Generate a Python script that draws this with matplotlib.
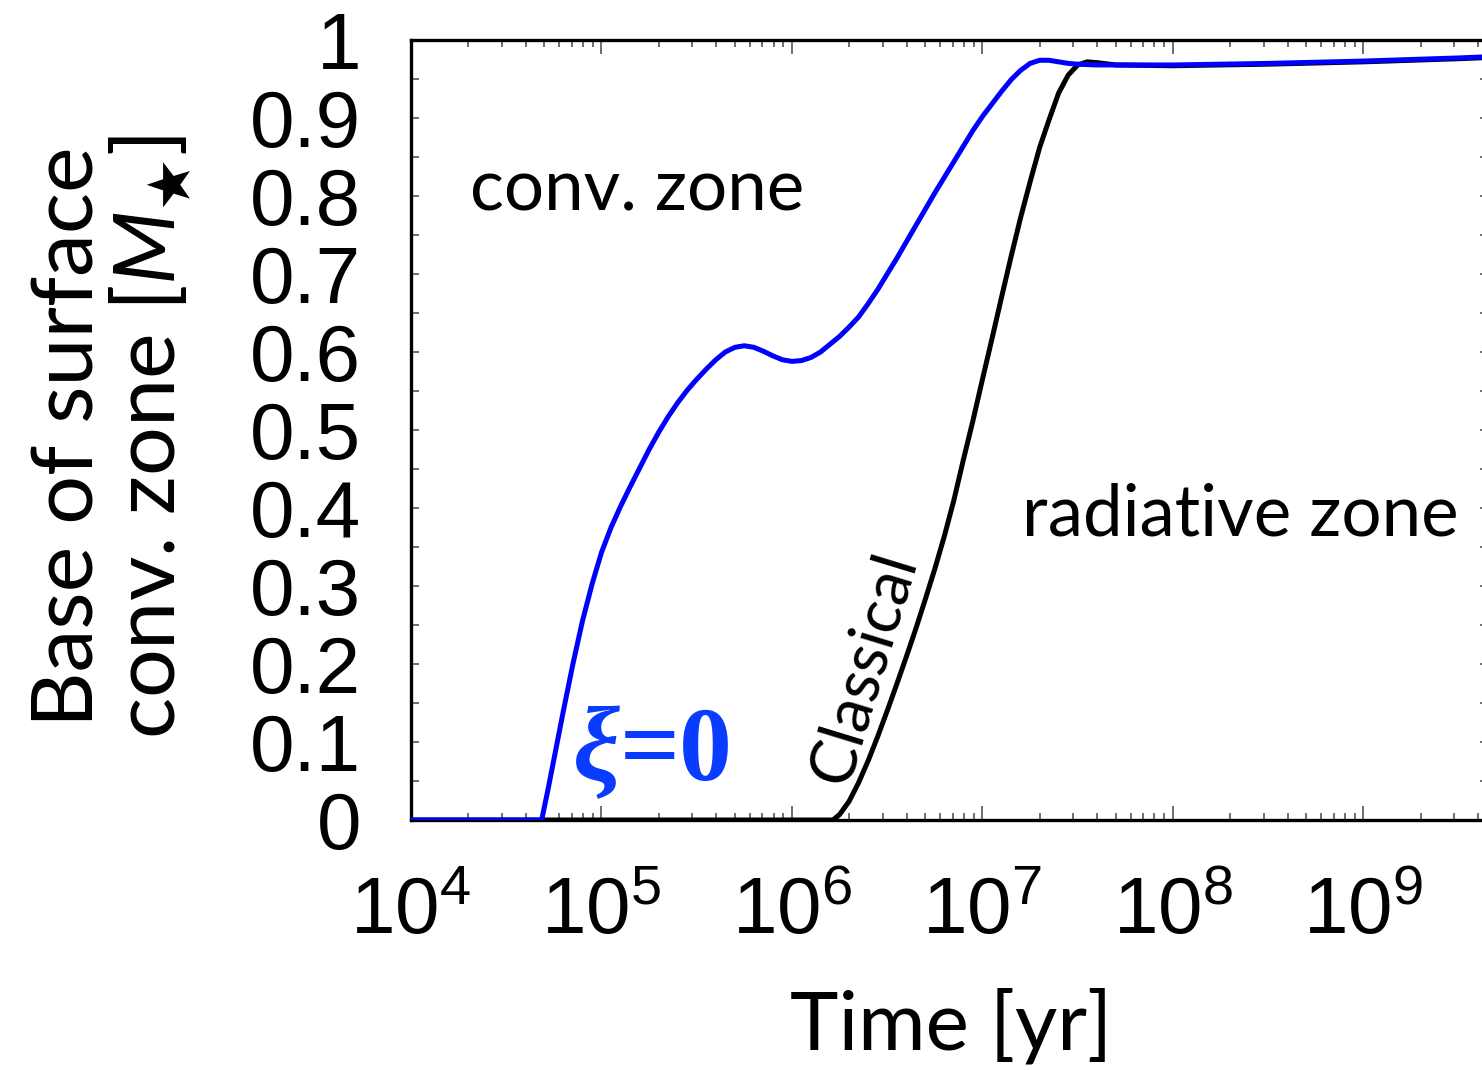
import numpy as np
import matplotlib
matplotlib.use('Agg')
import matplotlib.pyplot as plt
from matplotlib.ticker import FixedLocator, LogLocator, FuncFormatter, NullFormatter

plt.rcParams['mathtext.fontset'] = 'custom'
plt.rcParams['mathtext.it'] = 'Lato:italic'
plt.rcParams['mathtext.rm'] = 'Lato'
plt.rcParams['mathtext.fallback'] = 'stixsans'

# base of the surface convective zone vs. age, log10(t/yr)
logt_xi0 = [4.0, 4.686, 4.72, 4.76, 4.80, 4.85, 4.90, 4.95, 5.00, 5.05, 5.10, 5.15,
            5.20, 5.25, 5.30, 5.35, 5.40, 5.45, 5.50, 5.55, 5.60, 5.65, 5.70, 5.75,
            5.80, 5.85, 5.90, 5.95, 6.00, 6.05, 6.10, 6.15, 6.20, 6.25, 6.30, 6.35,
            6.40, 6.45, 6.50, 6.55, 6.60, 6.65, 6.70, 6.75, 6.80, 6.85, 6.90, 6.95,
            7.00, 7.05, 7.10, 7.15, 7.20, 7.25, 7.30, 7.35, 7.40, 7.45, 7.50, 7.60,
            8.0, 8.5, 9.0, 9.5, 9.7]
mcz_xi0 = [0.0, 0.0, 0.040, 0.090, 0.140, 0.200, 0.255, 0.302, 0.343, 0.375, 0.402, 0.427,
           0.451, 0.475, 0.497, 0.517, 0.535, 0.551, 0.565, 0.578, 0.590, 0.600, 0.606, 0.608,
           0.606, 0.601, 0.595, 0.590, 0.588, 0.589, 0.593, 0.600, 0.610, 0.620, 0.632, 0.645,
           0.662, 0.680, 0.700, 0.720, 0.741, 0.762, 0.783, 0.804, 0.824, 0.844, 0.864, 0.884,
           0.902, 0.918, 0.934, 0.949, 0.961, 0.970, 0.974, 0.974, 0.972, 0.970, 0.969, 0.968,
           0.968, 0.970, 0.973, 0.977, 0.979]

logt_classic = [4.0, 6.215, 6.25, 6.30, 6.35, 6.40, 6.45, 6.50, 6.55, 6.60, 6.65, 6.70,
                6.75, 6.80, 6.85, 6.90, 6.95, 7.00, 7.05, 7.10, 7.15, 7.20, 7.25, 7.30,
                7.35, 7.40, 7.45, 7.50, 7.55, 7.60, 7.70, 8.0, 8.5, 9.0, 9.5, 9.7]
mcz_classic = [0.0, 0.0, 0.007, 0.024, 0.048, 0.076, 0.107, 0.140, 0.174, 0.209, 0.245, 0.283,
               0.322, 0.364, 0.410, 0.462, 0.512, 0.565, 0.617, 0.670, 0.722, 0.772, 0.818, 0.862,
               0.898, 0.932, 0.955, 0.968, 0.972, 0.971, 0.968, 0.967, 0.969, 0.972, 0.976, 0.978]

ytick_vals = [0, 0.1, 0.2, 0.3, 0.4, 0.5, 0.6, 0.7, 0.8, 0.9, 1]
ytick_labels = ['0', '0.1', '0.2', '0.3', '0.4', '0.5', '0.6', '0.7', '0.8', '0.9', '1']

fig = plt.figure(figsize=(14.82, 10.70), dpi=100)
ax = fig.add_axes([411/1482, 1-820/1070, 1077/1482, 780/1070])

ax.plot(10**np.array(logt_classic), mcz_classic, color='black', lw=3.6, zorder=2,
        solid_joinstyle='round')
ax.plot(10**np.array(logt_xi0), mcz_xi0, color='#0000ff', lw=3.6, zorder=3,
        solid_joinstyle='round')

ax.set_xscale('log')
ax.set_xlim(1e4, 10**9.654)
ax.set_ylim(0, 1)

tickfont = 'Liberation Sans'
ax.xaxis.set_major_locator(LogLocator(base=10, numticks=20))
ax.xaxis.set_minor_locator(LogLocator(base=10, subs=np.arange(2, 10), numticks=20))
ax.xaxis.set_minor_formatter(NullFormatter())
ax.xaxis.set_major_formatter(FuncFormatter(lambda v, p: r'$\mathdefault{10^{%d}}$' % round(np.log10(v))))
ax.yaxis.set_major_locator(FixedLocator(ytick_vals))
ax.yaxis.set_major_formatter(FuncFormatter(lambda v, p: ytick_labels[p] if p is not None and p < len(ytick_labels) else ''))
ax.yaxis.set_minor_locator(FixedLocator(np.arange(0.05, 1.0, 0.1)))

ax.tick_params(axis='both', which='both', direction='in', top=True, right=True, color='#555555')
ax.tick_params(axis='x', which='major', length=10, width=1.2, pad=40)
ax.tick_params(axis='x', which='minor', length=5, width=1.2)
ax.tick_params(axis='y', which='both', length=5.5, width=1.2, pad=36)
for lab in ax.get_xticklabels() + ax.get_yticklabels():
    lab.set_fontfamily(tickfont)
    lab.set_fontsize(57.6)
for s in ax.spines.values():
    s.set_linewidth(2.4)

txtfont = 'Lato'
ax.text(2.04e4, 0.782, 'conv. zone', family=txtfont, fontsize=51, ha='left', va='baseline')
ax.text(2.25e8, 0.365, 'radiative zone', family=txtfont, fontsize=51, ha='center', va='baseline')
ax.text(2.4e6, 0.195, 'Classical', family=txtfont, fontsize=46, rotation=73,
        ha='center', va='center', rotation_mode='anchor')
# label for the xi = 0 track
ax.text(1.25e5, 0.051, 'ξ', family='Liberation Serif', fontweight='bold', fontstyle='italic',
        fontsize=76, color='#0a3cff', ha='right', va='baseline')
ax.text(1.25e5, 0.051, '=0', family='Liberation Serif', fontweight='bold',
        fontsize=76, color='#0a3cff', ha='left', va='baseline')

fig.text(951/1482, 1-1050/1070, 'Time [yr]', family=txtfont, fontsize=59, ha='center', va='baseline')
fig.text(112/1482, 1-437/1070, 'Base of surface\nconv. zone [$M_{\\bigstar}$]', family=txtfont,
         fontsize=62, rotation=90, ha='center', va='center', multialignment='center', linespacing=0.98)

fig.savefig('out.png', dpi=100)
